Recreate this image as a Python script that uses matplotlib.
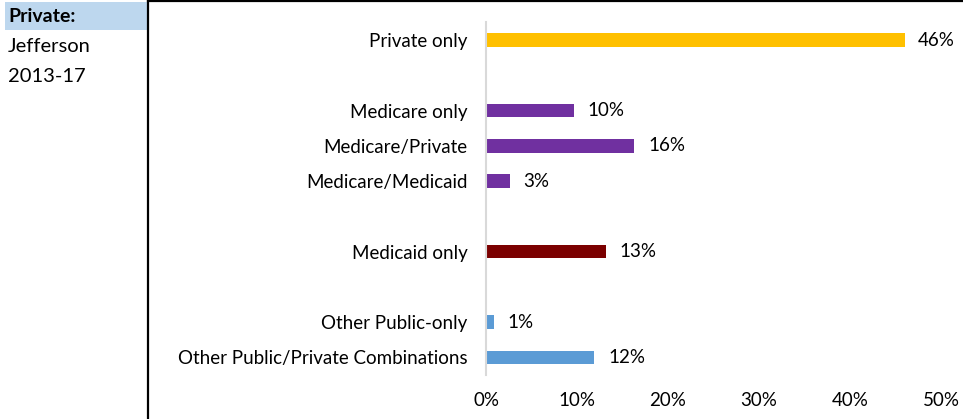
import matplotlib.pyplot as plt
from matplotlib.patches import Rectangle
from matplotlib.lines import Line2D

categories = ['Private only', 'Medicare only', 'Medicare/Private', 'Medicare/Medicaid',
              'Medicaid only', 'Other Public-only', 'Other Public/Private Combinations']
values = [46.0, 9.7, 16.3, 2.6, 13.2, 0.9, 11.9]
slots = [0, 2, 3, 4, 6, 8, 9]
colors = ['#FFC000', '#7030A0', '#7030A0', '#7030A0', '#7B0000', '#5B9BD5', '#5B9BD5']
xticks = [0, 10, 20, 30, 40, 50]

plt.rcParams['font.family'] = ['Lato', 'DejaVu Sans']

W, H = 963, 419
fig = plt.figure(figsize=(W / 100, H / 100), dpi=100)

# left header panel
fig.patches.append(Rectangle((5 / W, 1 - 30 / H), 143 / W, 28 / H, transform=fig.transFigure,
                             facecolor='#BDD7EE', edgecolor='none'))
fig.text(8 / W, 1 - 16 / H, 'Private:', fontsize=14, fontweight='bold', va='center', ha='left')
fig.text(8 / W, 1 - 47 / H, 'Jefferson', fontsize=14.5, va='center', ha='left')
fig.text(8 / W, 1 - 77 / H, '2013-17', fontsize=14.5, va='center', ha='left')

# chart frame (top and left edges visible)
fig.lines.append(Line2D([148 / W, 148 / W], [0, 1 - 1 / H], transform=fig.transFigure,
                        color='black', lw=1.6))
fig.lines.append(Line2D([148 / W, 1], [1 - 1 / H, 1 - 1 / H], transform=fig.transFigure,
                        color='black', lw=1.6))

ax = fig.add_axes([486 / W, 1 - 375 / H, (941 - 486) / W, (375 - 22.4) / H])
ax.barh(slots, values, height=0.38, color=colors)
ax.set_ylim(9.5, -0.5)
ax.set_xlim(0, 50)
ax.set_yticks(slots)
ax.set_yticklabels(categories, fontsize=13.5)
ax.set_xticks(xticks)
ax.set_xticklabels([f'{t}%' for t in xticks], fontsize=13.5)
ax.tick_params(axis='both', length=0)
ax.tick_params(axis='y', pad=13.5)
ax.tick_params(axis='x', pad=12.5)
for s in ['top', 'right', 'bottom']:
    ax.spines[s].set_visible(False)
ax.spines['left'].set_color('#D9D9D9')
ax.spines['left'].set_linewidth(1.5)

for y, v in zip(slots, values):
    ax.text(v + 1.5, y, f'{v:.0f}%', va='center', ha='left', fontsize=13.5)

fig.savefig('out.png', dpi=100)
